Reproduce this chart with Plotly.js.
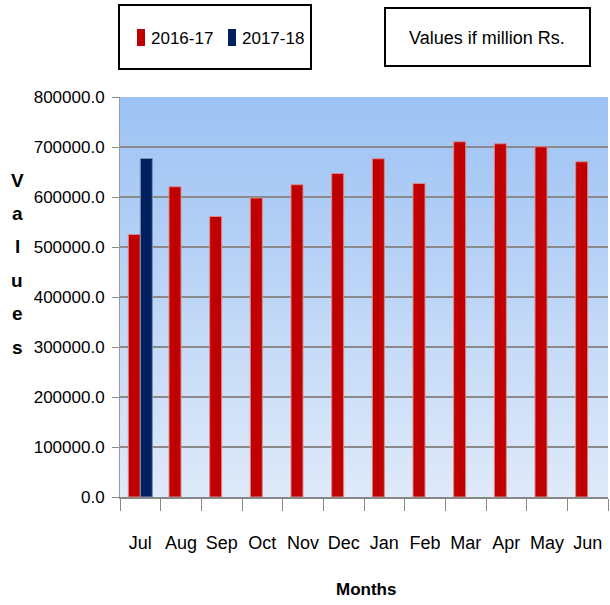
<!DOCTYPE html>
<html>
<head>
<meta charset="utf-8">
<script src="https://cdn.plot.ly/plotly-3.0.1.min.js"></script>
<style>html,body{margin:0;padding:0;background:#fff;}#chart{width:610px;height:605px;}</style>
</head>
<body>
<div id="chart"></div>
<script>
const months = ["Jul","Aug","Sep","Oct","Nov","Dec","Jan","Feb","Mar","Apr","May","Jun"];
const series1Name = "2016-17";
const series1 = [525000, 620500, 561000, 598000, 624500, 647000, 676500, 627000, 710500, 706500, 700500, 670500];
const series2Name = "2017-18";
const series2 = [677000, null, null, null, null, null, null, null, null, null, null, null];
const yTicks = [0, 100000, 200000, 300000, 400000, 500000, 600000, 700000, 800000];
const yTitleLetters = "Values";

const W = 610, H = 605;
const L = 120, R = 608, T = 97, B = 497;
const px = x => (x - L) / (R - L);
const py = y => (B - y) / (B - T);
const FONT = '"Liberation Sans", Arial, sans-serif';

const gradSvg = '<svg xmlns="http://www.w3.org/2000/svg" width="100" height="100" preserveAspectRatio="none">' +
  '<defs><linearGradient id="g" x1="0" y1="0" x2="0" y2="1">' +
  '<stop offset="0" stop-color="#9cc2f4"/><stop offset="1" stop-color="#dfeaf9"/>' +
  '</linearGradient></defs><rect width="100" height="100" fill="url(#g)"/></svg>';
const gradUri = 'data:image/svg+xml;base64,' + btoa(gradSvg);

const colors = ['#c00000', '#002060'];
const traces = [
  {type:'bar', name: series1Name, x: months, y: series1,
   marker:{color:colors[0], line:{color:'#d98a8a', width:1}}},
  {type:'bar', name: series2Name, x: months, y: series2,
   marker:{color:colors[1], line:{color:'#7f8fb0', width:1}}}
];

const annotations = [
  {xref:'paper', yref:'paper', x: px(487), y: py(38), text:'Values if million Rs.', showarrow:false,
   font:{family:FONT, size:18, color:'#000'}, xanchor:'center', yanchor:'middle'},
  {xref:'paper', yref:'paper', x: px(366), y: py(589), text:'<b>Months</b>', showarrow:false,
   font:{family:FONT, size:17, color:'#000'}, xanchor:'center', yanchor:'middle'}
];
yTitleLetters.split('').forEach((ch, i) => {
  annotations.push({xref:'paper', yref:'paper', x: px(17), y: py(180 + i*33.4), text:'<b>'+ch+'</b>',
    showarrow:false, font:{family:FONT, size:19, color:'#000'}, xanchor:'center', yanchor:'middle'});
});

// manual legend (keys drawn as shapes, names as annotations)
const legendX = [137, 228];
const shapes = [
  {type:'rect', xref:'paper', yref:'paper', x0:px(119), x1:px(311), y0:py(5), y1:py(69),
   line:{color:'#000', width:2}, fillcolor:'rgba(0,0,0,0)'},
  {type:'rect', xref:'paper', yref:'paper', x0:px(385), x1:px(590), y0:py(8), y1:py(66),
   line:{color:'#000', width:2}, fillcolor:'rgba(0,0,0,0)'}
];
[series1Name, series2Name].forEach((nm, i) => {
  shapes.push({type:'rect', xref:'paper', yref:'paper', x0:px(legendX[i]), x1:px(legendX[i]+8),
    y0:py(29), y1:py(46), line:{width:0}, fillcolor:colors[i]});
  annotations.push({xref:'paper', yref:'paper', x: px(legendX[i]+12), y: py(38), text:nm, showarrow:false,
    font:{family:FONT, size:17, color:'#000'}, xanchor:'left', yanchor:'middle'});
});

const layout = {
  width: W, height: H,
  margin:{l:L, r:W-R, t:T, b:H-B, pad:0},
  paper_bgcolor:'#ffffff',
  plot_bgcolor:'rgba(0,0,0,0)',
  barmode:'group', bargap:0.41, bargroupgap:0,
  showlegend:false,
  xaxis:{type:'category', tickson:'boundaries', ticks:'outside', ticklen:12, tickcolor:'#888',
    tickwidth:1, showline:true, linecolor:'#888', linewidth:2, showgrid:false, tickangle:0,
    ticklabelstandoff:28,
    tickfont:{family:FONT, size:18, color:'#000'}, fixedrange:true},
  yaxis:{range:[0,800000], tickvals:yTicks, tickformat:'.1f', ticks:'outside', ticklen:7,
    tickcolor:'#888', showline:true, linecolor:'#999', linewidth:1, showgrid:true,
    gridcolor:'#8a8a8a', gridwidth:2, zeroline:false, ticklabelstandoff:4,
    tickfont:{family:FONT, size:17, color:'#000'}, fixedrange:true},
  images:[{source: gradUri, xref:'paper', yref:'paper', x:0, y:1, sizex:1, sizey:1,
    sizing:'stretch', layer:'below', xanchor:'left', yanchor:'top'}],
  shapes: shapes,
  annotations: annotations
};

Plotly.newPlot('chart', traces, layout, {displayModeBar:false, staticPlot:true});
</script>
</body>
</html>
